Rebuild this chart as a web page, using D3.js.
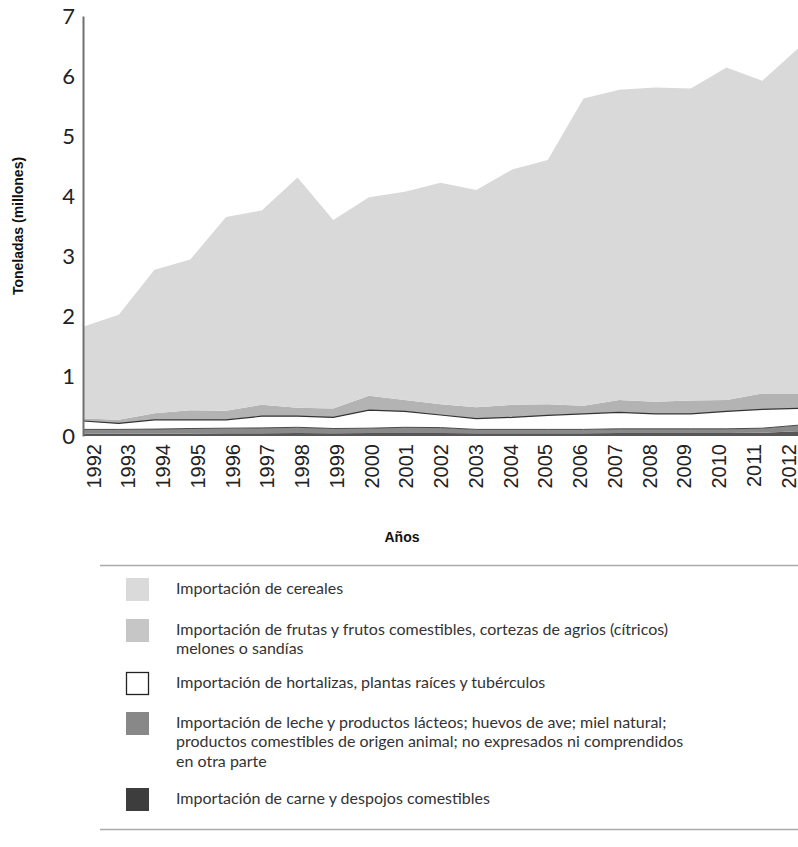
<!DOCTYPE html>
<html>
<head>
<meta charset="utf-8">
<script src="https://cdn.jsdelivr.net/npm/d3@7"></script>
<style>
  html, body { margin: 0; padding: 0; background: #fff; }
  svg { display: block; }
</style>
</head>
<body>
<svg id="chart" width="798" height="847"></svg>
<script>
// ---- DATA ----
const years = [1992,1993,1994,1995,1996,1997,1998,1999,2000,2001,2002,2003,2004,2005,2006,2007,2008,2009,2010,2011,2012];
const carne      = [0.04,0.04,0.04,0.04,0.045,0.045,0.05,0.045,0.05,0.05,0.05,0.045,0.045,0.045,0.045,0.05,0.05,0.05,0.05,0.055,0.08];
const leche      = [0.07,0.07,0.075,0.085,0.085,0.09,0.095,0.08,0.08,0.095,0.09,0.065,0.065,0.065,0.065,0.07,0.07,0.07,0.07,0.075,0.10];
const hortalizas = [0.14,0.10,0.155,0.145,0.14,0.195,0.185,0.185,0.30,0.265,0.21,0.18,0.20,0.235,0.26,0.275,0.25,0.25,0.29,0.315,0.28];
const frutas     = [0.04,0.06,0.11,0.16,0.15,0.19,0.14,0.15,0.24,0.19,0.18,0.19,0.21,0.185,0.135,0.205,0.20,0.22,0.19,0.265,0.25];
const cereales   = [1.53,1.75,2.39,2.51,3.23,3.24,3.84,3.14,3.31,3.47,3.69,3.62,3.92,4.07,5.12,5.17,5.24,5.20,5.54,5.21,5.75];
const yTicks = [0,1,2,3,4,5,6,7];

const seriesKeys = ["carne","leche","hortalizas","frutas","cereales"];
const seriesFill = {carne:"#575757", leche:"#8a8a8a", hortalizas:"#ffffff", frutas:"#b3b3b3", cereales:"#d9d9d9"};
const legendItems = [
  {key:"cereales", color:"#dadada", border:null, lines:["Importación de cereales"]},
  {key:"frutas", color:"#c6c6c6", border:null, lines:["Importación de frutas y frutos comestibles, cortezas de agrios (cítricos)","melones o sandías"]},
  {key:"hortalizas", color:"#ffffff", border:"#222", lines:["Importación de hortalizas, plantas raíces y tubérculos"]},
  {key:"leche", color:"#888888", border:null, lines:["Importación de leche y productos lácteos; huevos de ave; miel natural;","productos comestibles de origen animal; no expresados ni comprendidos","en otra parte"]},
  {key:"carne", color:"#3d3d3d", border:null, lines:["Importación de carne y despojos comestibles"]}
];

// ---- BUILD ----
const table = years.map((y,i) => ({year:y, carne:carne[i], leche:leche[i], hortalizas:hortalizas[i], frutas:frutas[i], cereales:cereales[i]}));
const stacked = d3.stack().keys(seriesKeys)(table);

const svg = d3.select("#chart");
const x = d3.scaleLinear().domain([1992, 2012]).range([83, 798]);
const y = d3.scaleLinear().domain([0, 7]).range([436, 16]);
const xLabel = d3.scalePoint().domain(years).range([93, 788]);

const area = d3.area().x(d => x(d.data.year)).y0(d => y(d[0])).y1(d => y(d[1]));
const topLine = d3.line().x(d => x(d.data.year)).y(d => y(d[1]));

svg.append("g").selectAll("path").data(stacked).join("path")
  .attr("d", area)
  .attr("fill", d => seriesFill[d.key]);

// boundary lines
stacked.filter(s => s.key === "leche").forEach(s => {
  svg.append("path").attr("d", topLine(s)).attr("fill","none").attr("stroke","#4a4a4a").attr("stroke-width",1);
});
stacked.filter(s => s.key === "hortalizas").forEach(s => {
  svg.append("path").attr("d", topLine(s)).attr("fill","none").attr("stroke","#333").attr("stroke-width",1.2);
});

// y axis
const yAxis = d3.axisLeft(y).tickValues(yTicks).tickSize(0).tickPadding(8).tickFormat(d3.format("d"));
const gy = svg.append("g").attr("transform","translate(83,0)").call(yAxis);
gy.select(".domain").attr("stroke","#707070").attr("stroke-width",2);
gy.selectAll("text").attr("font-family","Lato, 'Noto Sans', sans-serif").attr("font-size",22).attr("fill","#222").attr("dy","0.33em");

// x labels
const xAxis = d3.axisBottom(xLabel).tickSize(0).tickPadding(0);
const gx = svg.append("g").attr("transform","translate(0,444)").call(xAxis);
gx.select(".domain").remove();
gx.selectAll("text")
  .attr("font-family","'Liberation Sans', Arial, sans-serif").attr("font-size",20).attr("fill","#222")
  .attr("transform","rotate(-90)")
  .attr("text-anchor","end")
  .attr("x",0).attr("y",0).attr("dy","0.35em");

// axis titles
svg.append("text").attr("x",402).attr("y",542).attr("text-anchor","middle")
  .attr("font-family","'Liberation Sans', Arial, sans-serif").attr("font-weight","bold").attr("font-size",14).attr("fill","#111")
  .text("Años");
svg.append("text").attr("transform","translate(23,226) rotate(-90)").attr("text-anchor","middle")
  .attr("font-family","'Liberation Sans', Arial, sans-serif").attr("font-weight","bold").attr("font-size",14).attr("fill","#111")
  .text("Toneladas (millones)");

// legend
const lg = svg.append("g");
lg.append("line").attr("x1",100).attr("x2",798).attr("y1",565.5).attr("y2",565.5).attr("stroke","#aaa").attr("stroke-width",1.5);
lg.append("line").attr("x1",100).attr("x2",798).attr("y1",829.5).attr("y2",829.5).attr("stroke","#aaa").attr("stroke-width",1.5);
const rowTop = [578, 619, 672, 712, 788];
legendItems.forEach((it, i) => {
  const t = rowTop[i];
  lg.append("rect").attr("x", it.border ? 126.5 : 126).attr("y", it.border ? t+0.5 : t)
    .attr("width", it.border ? 22 : 23).attr("height", it.border ? 22 : 23)
    .attr("fill", it.color).attr("stroke", it.border || "none").attr("stroke-width", it.border ? 1.3 : 0);
  const tx = lg.append("text").attr("font-family","Lato, 'Noto Sans', sans-serif").attr("font-size",16).attr("fill","#333");
  it.lines.forEach((ln, j) => {
    tx.append("tspan").attr("x",176).attr("y", t + 15.5 + j*19.5).text(ln);
  });
});
</script>
</body>
</html>
